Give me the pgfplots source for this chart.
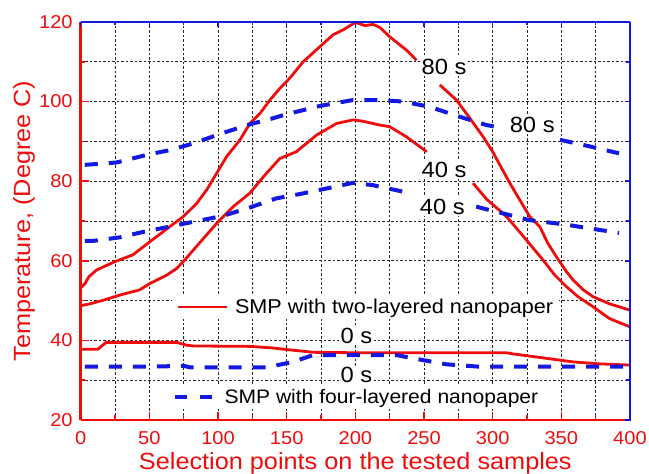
\documentclass[border=0pt]{standalone}
\usepackage{pgfplots}
\pgfplotsset{compat=1.18}
\usepackage{fontspec}
\setmainfont{Liberation Sans}[FakeStretch=1.08]
\definecolor{myred}{RGB}{238,12,12}
\definecolor{myblue}{RGB}{20,25,225}
\begin{document}
\begin{tikzpicture}
\path[use as bounding box] (-80.7pt,-54pt) rectangle (568.3pt,420pt);
\pgfplotsset{
  common/.style={
    at={(0pt,0pt)}, anchor=south west, scale only axis,
    width=549.3pt, height=398pt,
    xmin=0, xmax=400, ymin=20, ymax=120,
    xtick={0,50,...,400}, ytick={20,40,...,120},
    minor x tick num=1, minor y tick num=1,
    tick align=inside,
    /pgf/number format/assume math mode=true,
  }
}
% ---------- red axis: grid, labels, legend 1, annotations
\begin{axis}[common,
  axis x line*=bottom, axis y line*=left,
  axis line style={-, myred, line width=2.5pt},
  major tick length=8pt, minor tick length=4.5pt,
  tick style={myred, line width=1.5pt},
  grid=both,
  major grid style={black!85, line width=0.8pt, dash pattern=on 2.5pt off 2pt},
  minor grid style={black!85, line width=0.8pt, dash pattern=on 2.5pt off 2pt},
  ticklabel style={font=\fontsize{18.6}{20}\selectfont, text=myred},
  xticklabel style={anchor=base, yshift=-25pt},
  yticklabel style={anchor=east, xshift=-4.5pt},
  xlabel={Selection points on the tested samples},
  ylabel={Temperature, (Degree C)},
  label style={font=\fontsize{23.4}{25}\selectfont, text=myred},
  xlabel style={at={(axis description cs:0.5,-0.1244)}, anchor=base},
  ylabel style={at={(axis description cs:-0.1032,0.5)}, anchor=center},
  legend style={at={(axis cs:66.5,48.4)}, anchor=west, draw=none, fill=white,
    font=\fontsize{20}{21}\selectfont, inner xsep=4pt, inner ysep=2pt,
    /tikz/every even column/.append style={column sep=0pt},
    /tikz/every odd column/.append style={column sep=5pt}},
]
\addlegendimage{legend image code/.code={\draw[myred, line width=2.8pt] (0pt,0pt) -- (49pt,0pt);}}
\addlegendentry{SMP with two-layered nanopaper}
\begin{scope}[every node/.style={fill=white, inner sep=1.5pt, text=black, font=\fontsize{22}{24}\selectfont}]
\node at (axis cs:264.6,108.8) {80 s};
\node at (axis cs:264.6,82.8) {40 s};
\node at (axis cs:328.8,94.1) {80 s};
\node at (axis cs:263.3,73.6) {40 s};
\node at (axis cs:200.8,41.2) {0 s};
\node at (axis cs:200.8,31.2) {0 s};
\end{scope}
\end{axis}
% ---------- data
\begin{axis}[common, hide axis]
% two-layered, 80 s
\addplot[myred, line width=2.8pt, line join=round, unbounded coords=jump] coordinates {
(0,53.2) (3,54.2) (6,56) (11.6,57.7) (25,59.8) (38,61.5) (50.4,64.8) (65,68.6)
(74.7,71.1) (84.4,74.4) (91.7,77.8) (99,82) (106.3,86.2) (116,90.4) (123.2,94.5)
(130.5,97) (137.8,100.4) (145,103.3) (152.3,105.9) (162,110) (174.2,113.8)
(183.8,116.8) (191,118) (200,119.9) (207,119.1) (213,119.4) (218,118.6) (225,116.3)
(237,113) (244.5,110.4)
(252,nan)
(261.5,104.2) (273.6,100.4) (283,96) (293,91.2) (300,87.4) (312.5,79.5) (319.7,75.3)
(327,71.1) (334.3,68.6) (340,64.5) (346.4,61) (353.7,57.3) (358.5,55.2) (366,52.7)
(373,51) (385,49.2) (400,47.6)};
% two-layered, 40 s
\addplot[myred, line width=2.8pt, line join=round, unbounded coords=jump] coordinates {
(0,48.7) (8,49.3) (16.5,50.1) (28.6,51.4) (43,52.7) (50.4,54.3) (62.6,56.4) (70,58.1)
(76,60.3) (82,62.7) (99,69.4) (111,73.6) (123.2,77) (133,81.1) (145,85.7)
(157,87.4) (171.8,91.6) (186.3,94.5) (198.4,95.4) (205,95.1) (217.8,94.1) (225,93.7)
(237,91.2) (252,87.4)
(270,nan)
(285.7,79.5) (295.5,75.5) (307.6,71.9) (312.4,70.2) (324.6,65.2) (336.7,60.2)
(345,56.5) (353.7,53.5) (362,51) (373,48.5) (385,45.5) (400,43.4)};
% two-layered, 0 s
\addplot[myred, line width=2.8pt, line join=round] coordinates {
(0,37.8) (12.6,37.8) (18.5,39.5) (70,39.5) (77,38.8) (82,38.6) (123,38.5) (140,38.1)
(150,37.7) (170,37.0) (200,36.9) (250,36.9) (310,36.9) (315,36.6) (339,35.5)
(358.5,34.6) (378,34.1) (400,33.8)};
% four-layered, 80 s
\addplot[myblue, line width=4pt, dash pattern=on 13pt off 11pt, unbounded coords=jump] coordinates {
(3,84.1) (26,84.7) (50.4,86.8) (65,87.8) (82,89.5) (102.6,92) (123.2,94.3) (140,95.8)
(147.5,96.6) (174,98.9) (198.4,100.4) (218,100.4) (234.8,100) (254,98.7) (276,96.2)
(295.5,94.1) (307,93.4)
(330,nan)
(349,90.4) (370,88.8) (392,87)};
% four-layered, 40 s
\addplot[myblue, line width=4pt, dash pattern=on 13pt off 11pt, unbounded coords=jump] coordinates {
(3,65) (9.2,65) (28.6,65.9) (46,67.3) (65,68.6) (82,69.8) (103.8,71.3) (123.2,73.4)
(142.6,75.7) (160,76.8) (174,77.8) (198.4,79.6) (212.8,79) (237,77.2)
(260,nan)
(288,73.6) (307.6,71.9) (327,70.2) (351.2,69.2) (392,67)};
% four-layered, 0 s
\addplot[myblue, line width=4pt, dash pattern=on 13pt off 11pt] coordinates {
(3,33.4) (50,33.4) (75,33.6) (80,33.2) (135,33.2) (154.7,34.6) (169,36.3) (230,36.3)
(242,35.5) (266,34) (290,33.4) (400,33.4)};
\end{axis}
% ---------- blue axis: top/right, legend 2
\begin{axis}[common,
  axis x line*=top, axis y line*=right,
  axis line style={-, myblue, line width=2pt},
  major tick length=5pt, minor tick length=3.5pt,
  tick style={myblue, line width=1.5pt},
  xticklabels={}, yticklabels={},
  legend style={at={(axis cs:64.4,25.8)}, anchor=west, draw=none, fill=white,
    font=\fontsize{19.5}{21}\selectfont, inner xsep=4pt, inner ysep=2pt,
    /tikz/every even column/.append style={column sep=0pt}},
]
\addlegendimage{legend image code/.code={\draw[myblue, line width=4pt, dash pattern=on 12pt off 13pt] (0pt,0pt) -- (37pt,0pt); \path (47pt,0pt);}}
\addlegendentry{SMP with four-layered nanopaper}
\end{axis}
\end{tikzpicture}
\end{document}
